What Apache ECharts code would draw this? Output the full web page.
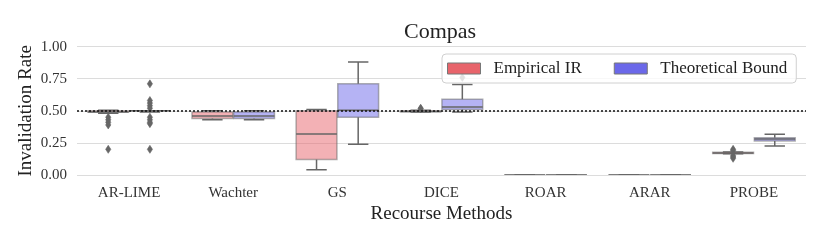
<!DOCTYPE html>
<html>
<head>
<meta charset="utf-8">
<script src="https://cdn.jsdelivr.net/npm/echarts@6/dist/echarts.min.js"></script>
<style>
html,body{margin:0;padding:0;background:#fff;}
#chart{width:830px;height:249px;}
</style>
</head>
<body>
<div id="chart"></div>
<script>
// ---- data ----
const categories = ['AR-LIME', 'Wachter', 'GS', 'DICE', 'ROAR', 'ARAR', 'PROBE'];
// [min(whisker), q1, median, q3, max(whisker)] per category
const empiricalBoxes = [
  [0.48, 0.49, 0.49, 0.50, 0.505],
  [0.43, 0.44, 0.46, 0.49, 0.50],
  [0.04, 0.12, 0.32, 0.50, 0.51],
  [0.49, 0.492, 0.495, 0.50, 0.505],
  [0, 0, 0, 0, 0],
  [0, 0, 0, 0, 0],
  [0.165, 0.168, 0.172, 0.178, 0.18]
];
const theoreticalBoxes = [
  [0.49, 0.50, 0.50, 0.50, 0.50],
  [0.43, 0.44, 0.46, 0.49, 0.50],
  [0.24, 0.45, 0.505, 0.71, 0.88],
  [0.49, 0.51, 0.53, 0.59, 0.705],
  [0, 0, 0, 0, 0],
  [0, 0, 0, 0, 0],
  [0.225, 0.265, 0.28, 0.29, 0.318]
];
// outliers: [categoryIndex, value]
const empiricalOutliers = [
  [0, 0.45], [0, 0.43], [0, 0.41], [0, 0.39], [0, 0.20],
  [3, 0.52], [3, 0.515],
  [6, 0.20], [6, 0.19], [6, 0.15], [6, 0.14], [6, 0.13]
];
const theoreticalOutliers = [
  [0, 0.71], [0, 0.58], [0, 0.56], [0, 0.54], [0, 0.52],
  [0, 0.45], [0, 0.43], [0, 0.41], [0, 0.40], [0, 0.20],
  [3, 0.76]
];
const yTicks = [0, 0.25, 0.5, 0.75, 1.0];
const referenceLine = 0.5;

const seriesNames = ['Empirical IR', 'Theoretical Bound'];
const seriesColors = ['#e8646b', '#6b68e9'];
const fillColors = ['rgba(232,100,107,0.5)', 'rgba(107,104,233,0.5)'];

const FONT = '"Liberation Serif", "DejaVu Serif", serif';

function boxRenderer(side, fill) {
  return function (params, api) {
    const cat = api.value(0);
    const mn = api.value(1), q1 = api.value(2), md = api.value(3), q3 = api.value(4), mx = api.value(5);
    const band = api.size([1, 0])[0];
    const c = api.coord([cat, 0])[0] + side * 0.2 * band;
    const w = 0.4 * band * 0.98;
    const y = v => api.coord([cat, v])[1];
    const wl = { stroke: '#666', lineWidth: 1.5 };
    return {
      type: 'group',
      children: [
        { type: 'line', shape: { x1: c, y1: y(q1), x2: c, y2: y(mn) }, style: wl },
        { type: 'line', shape: { x1: c, y1: y(q3), x2: c, y2: y(mx) }, style: wl },
        { type: 'line', shape: { x1: c - w / 4, y1: y(mn), x2: c + w / 4, y2: y(mn) }, style: wl },
        { type: 'line', shape: { x1: c - w / 4, y1: y(mx), x2: c + w / 4, y2: y(mx) }, style: wl },
        { type: 'rect', shape: { x: c - w / 2, y: y(q3), width: w, height: y(q1) - y(q3) },
          style: { fill: fill, stroke: 'rgba(102,102,102,0.5)', lineWidth: 1.5 } },
        { type: 'line', shape: { x1: c - w / 2, y1: y(md), x2: c + w / 2, y2: y(md) }, style: wl }
      ]
    };
  };
}
function outlierRenderer(side) {
  return function (params, api) {
    const cat = api.value(0);
    const band = api.size([1, 0])[0];
    const p = api.coord([cat, api.value(1)]);
    const c = p[0] + side * 0.2 * band, yy = p[1];
    return {
      type: 'polygon',
      shape: { points: [[c, yy - 4], [c + 2.6, yy], [c, yy + 4], [c - 2.6, yy]] },
      style: { fill: '#666', stroke: '#666', lineWidth: 0.6 }
    };
  };
}

const chart = echarts.init(document.getElementById('chart'), null, { renderer: 'canvas' });
chart.setOption({
  animation: false,
  backgroundColor: '#fff',
  title: {
    text: 'Compas', left: 404, top: 21, padding: 0,
    textStyle: { fontFamily: FONT, fontSize: 22, fontWeight: 'normal', color: '#222' }
  },
  legend: {
    data: seriesNames.map((n, i) => ({ name: n, icon: 'rect', itemStyle: { color: seriesColors[i], borderColor: '#777', borderWidth: 1 } })),
    left: 442, top: 54,
    itemWidth: 33, itemHeight: 11, itemGap: 32,
    padding: [6, 9, 6, 5],
    backgroundColor: 'rgba(255,255,255,0.8)',
    borderColor: '#d0d0d0', borderWidth: 1, borderRadius: 4,
    textStyle: { fontFamily: FONT, fontSize: 17, color: '#222', padding: [0, 0, 0, 8] }
  },
  grid: { left: 77, right: 24, top: 46.6, bottom: 74, containLabel: false },
  xAxis: {
    type: 'category', data: categories,
    name: 'Recourse Methods', nameLocation: 'middle', nameGap: 30, nameMoveOverlap: false,
    nameTextStyle: { fontFamily: FONT, fontSize: 19, color: '#222' },
    axisLine: { show: false }, axisTick: { show: false },
    axisLabel: { fontFamily: FONT, fontSize: 15, color: '#333', margin: 11 },
    splitLine: { show: false }
  },
  yAxis: {
    type: 'value', min: yTicks[0], max: yTicks[yTicks.length - 1], interval: yTicks[1] - yTicks[0],
    name: 'Invalidation Rate', nameLocation: 'middle', nameGap: 41, nameMoveOverlap: false,
    nameTextStyle: { fontFamily: FONT, fontSize: 19, color: '#222' },
    axisLine: { show: false }, axisTick: { show: false },
    axisLabel: { fontFamily: FONT, fontSize: 15, color: '#333', margin: 10, formatter: v => v.toFixed(2) },
    splitLine: { show: true, lineStyle: { color: '#dcdcdc', width: 1.2 } }
  },
  series: [
    { type: 'custom', name: seriesNames[0], itemStyle: { color: seriesColors[0] },
      renderItem: boxRenderer(-1, fillColors[0]), clip: true,
      encode: { x: 0, y: [1, 2, 3, 4, 5] },
      data: empiricalBoxes.map((b, i) => [i].concat(b)), z: 2 },
    { type: 'custom', name: seriesNames[1], itemStyle: { color: seriesColors[1] },
      renderItem: boxRenderer(1, fillColors[1]), clip: true,
      encode: { x: 0, y: [1, 2, 3, 4, 5] },
      data: theoreticalBoxes.map((b, i) => [i].concat(b)), z: 2 },
    { type: 'custom', name: 'outE', renderItem: outlierRenderer(-1),
      encode: { x: 0, y: 1 }, data: empiricalOutliers, z: 3 },
    { type: 'custom', name: 'outT', renderItem: outlierRenderer(1),
      encode: { x: 0, y: 1 }, data: theoreticalOutliers, z: 3,
      markLine: {
        silent: true, symbol: 'none', label: { show: false },
        lineStyle: { color: '#111', type: [2, 2], width: 1.6 },
        data: [{ yAxis: referenceLine }], z: 5
      }
    }
  ]
});
</script>
</body>
</html>
